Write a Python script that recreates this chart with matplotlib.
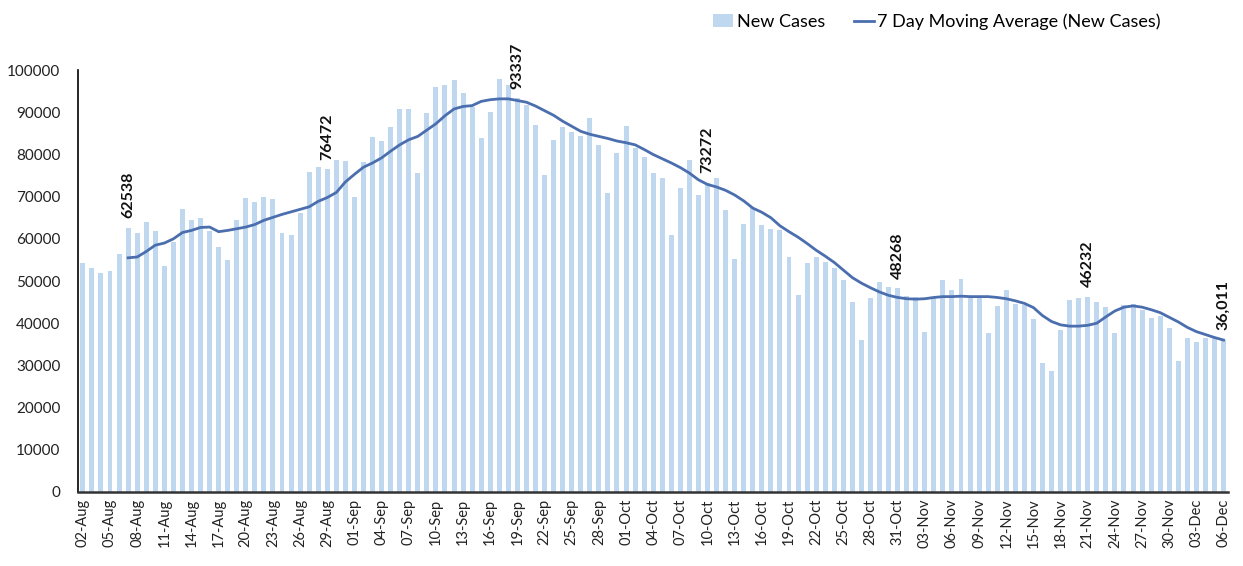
import matplotlib.pyplot as plt
import numpy as np
import pandas as pd

plt.rcParams['font.family'] = ['Lato', 'DejaVu Sans']

dates = pd.date_range("2020-08-02", "2020-12-06", freq="D")

# daily new cases
new_cases = [
    54300, 53000, 52000, 52400, 56300, 62538, 61300, 64000, 61900, 53600,
    59300, 67000, 64500, 65000, 61800, 58000, 55100, 64500, 69700, 68700,
    69900, 69400, 61400, 60900, 66100, 75800, 77000, 76472, 78700, 78400,
    69900, 78200, 84100, 83200, 86500, 90800, 90800, 75600, 89800, 96000,
    96400, 97600, 94500, 91200, 83900, 90000, 98000, 96400, 93337, 91700,
    87000, 75100, 83400, 86500, 85300, 84400, 88600, 82200, 70900, 80400,
    86700, 81500, 79400, 75600, 74400, 60900, 72000, 78700, 70400, 73272,
    74400, 66800, 55200, 63500, 67300, 63300, 62300, 62100, 55700, 46700,
    54200, 55700, 54500, 53000, 50200, 45000, 36000, 46000, 49800, 48600,
    48268, 46400, 46200, 37900, 46000, 50200, 47900, 50500, 46000, 46000,
    37700, 44000, 47900, 44500, 44300, 41000, 30600, 28700, 38400, 45500,
    46000, 46232, 45100, 43900, 37700, 44400, 44500, 43200, 41300, 41800,
    38800, 31100, 36600, 35500, 36600, 36600, 36011,
]

# 7 day moving average, starts on 07-Aug
ma_start = 5
moving_avg = [
    55500, 55700, 57000, 58500, 59000, 60000, 61500, 62000, 62700, 62800,
    61700, 62000, 62400, 62800, 63400, 64400, 65100, 65800, 66400, 67000,
    67600, 68900, 69800, 71000, 73500, 75300, 77000, 78000, 79200, 80800,
    82300, 83500, 84300, 85800, 87300, 89200, 90800, 91400, 91600, 92600,
    93000, 93200, 93200, 92800, 92400, 91500, 90400, 89300, 87900, 86700,
    85500, 84800, 84300, 83800, 83200, 82800, 82300, 81200, 80000, 79000,
    78000, 76900, 75600, 74000, 72900, 72300, 71500, 70400, 69000, 67300,
    66300, 65000, 63100, 61700, 60400, 58900, 57300, 55900, 54400, 52600,
    50800, 49500, 48400, 47400, 46600, 46100, 45800, 45700, 45800, 46100,
    46300, 46300, 46400, 46300, 46300, 46300, 46100, 45800, 45300, 44700,
    43700, 41800, 40400, 39600, 39300, 39300, 39500, 40000, 41500, 42900,
    43800, 44100, 43800, 43200, 42500, 41400, 40300, 39000, 38000, 37300,
    36600, 36000,
]

# bars that get a value label
label_dates = ["2020-08-07", "2020-08-29", "2020-09-19", "2020-10-10",
               "2020-10-31", "2020-11-21", "2020-12-06"]
label_texts = ["62538", "76472", "93337", "73272", "48268", "46232", "36,011"]

x = np.arange(len(dates))

fig = plt.figure(figsize=(12.43, 5.66), dpi=100)
ax = fig.add_axes([0.063, 0.131, 0.925, 0.745])

bars = ax.bar(x, new_cases, width=0.55, color="#c0d8ef", label="New Cases")
line, = ax.plot(x[ma_start:], moving_avg, color="#4a6eae", linewidth=2.0,
                label="7 Day Moving Average (New Cases)")

for d, t in zip(label_dates, label_texts):
    i = dates.get_loc(pd.Timestamp(d))
    ax.annotate(t, (x[i], new_cases[i]), xytext=(0, 7), textcoords="offset points",
                rotation=90, ha="center", va="bottom", fontsize=11.5,
                fontweight="bold", color="#111111")

ax.set_xlim(-0.5, len(dates) - 0.5)
ax.set_ylim(0, 100000)
ax.set_yticks(np.arange(0, 100001, 10000))
ax.set_xticks(x[::3])
ax.set_xticklabels([d.strftime("%d-%b") for d in dates[::3]], rotation=90)
ax.tick_params(axis="both", length=0, colors="#222222")
ax.tick_params(axis="y", pad=13, labelsize=11)
ax.tick_params(axis="x", pad=5, labelsize=10.5)

for s in ["top", "right"]:
    ax.spines[s].set_visible(False)
ax.spines["left"].set_linewidth(1.2)
ax.spines["bottom"].set_linewidth(1.8)
ax.spines["bottom"].set_color("#333333")
ax.plot(-0.5, 1.0, marker="^", markersize=4, color="black",
        transform=ax.get_yaxis_transform(), clip_on=False)

fig.legend(handles=[bars, line], loc="upper right", bbox_to_anchor=(0.947, 1.005),
           ncol=2, frameon=False, fontsize=13, handlelength=1.1,
           handletextpad=0.2, columnspacing=1.6)

fig.savefig("out.png", dpi=100)
